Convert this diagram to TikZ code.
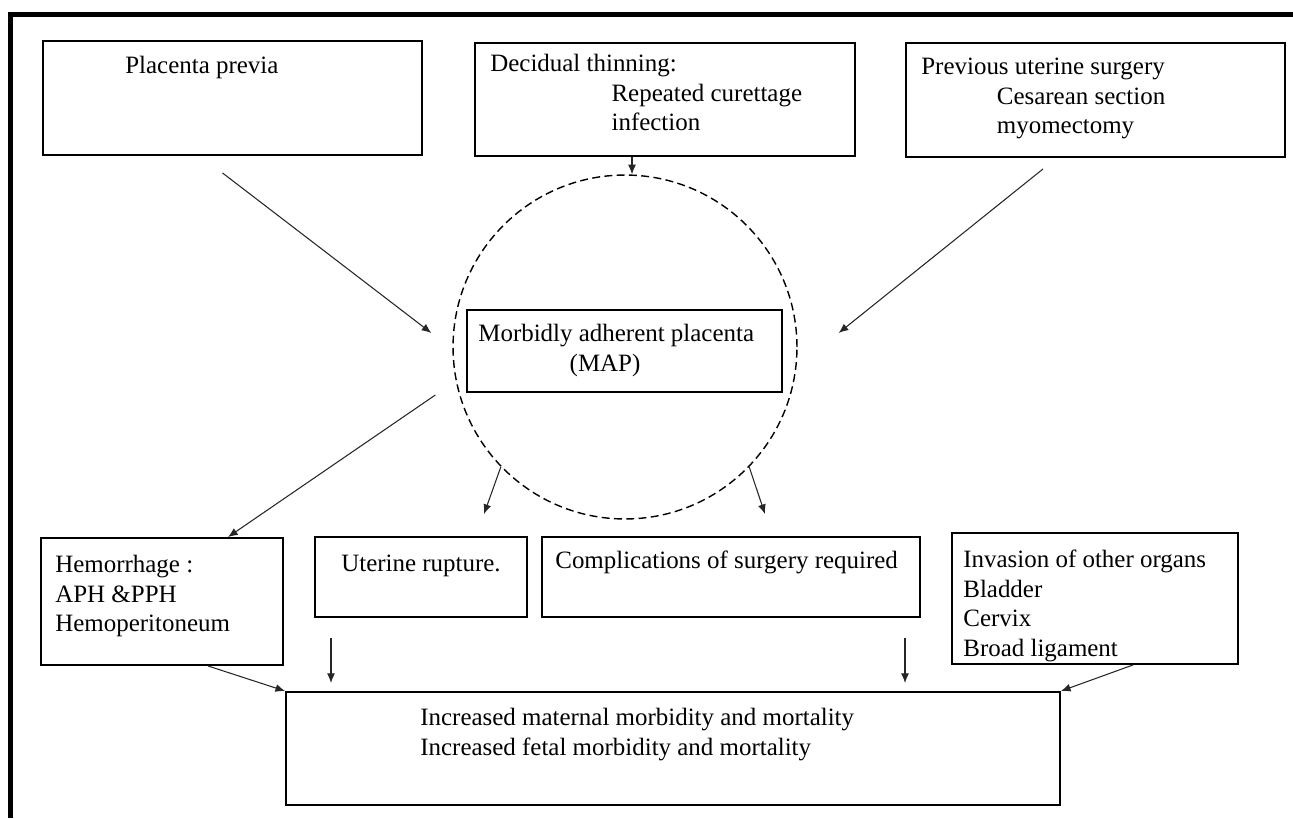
\documentclass[tikz,border=0pt]{standalone}
\usepackage{fontspec}
\setmainfont{Liberation Serif}
\usetikzlibrary{arrows.meta,calc}

\begin{document}
\begin{tikzpicture}[x=0.02cm, y=-0.02cm,
    block/.style={draw, line width=1.1pt, inner sep=0pt},
    ring/.style={draw, circle, line width=0.8pt, dash pattern=on 4.5pt off 2.5pt, inner sep=0pt},
    txt/.style={anchor=north west, inner sep=0pt, align=left, font=\fontsize{14.2}{16.8}\selectfont},
    arrow/.style={-{Latex[length=5.5pt,width=4.5pt]}, line width=0.6pt, black!85}
  ]

  \fill[white] (0,0) rectangle (1293,818);
  \useasboundingbox (0,0) rectangle (1293,818);
  \draw[line width=2.9pt] (10.5,818) -- (10.5,14.5) -- (1293,14.5);

  % causes
  \node[block, minimum width=7.58cm, minimum height=2.28cm] (previa) at (232.5,98) {};
  \node[block, minimum width=7.6cm, minimum height=2.26cm] (decidual) at (665,99.5) {};
  \node[block, minimum width=7.58cm, minimum height=2.28cm] (surgery) at (1095.5,100) {};

  \node[txt] (previatxt) at (125,56) {Placenta previa};
  \node[txt] (decidualtxt) at (490,54) {Decidual thinning:\\
    \hspace*{69pt}Repeated curettage\\
    \hspace*{69pt}infection};
  \node[txt] (surgerytxt) at (921,58) {Previous uterine surgery\\
    \hspace*{43pt}Cesarean section\\
    \hspace*{43pt}myomectomy};

  % MAP
  \node[ring, minimum size=6.88cm] (mapc) at (625,347) {};
  \node[block, minimum width=6.3cm, minimum height=1.64cm] (map) at (624.5,351) {};
  \node[txt] (maptxt) at (478,324) {Morbidly adherent placenta\\
    \hspace*{52pt}(MAP)};

  % consequences
  \node[block, minimum width=4.84cm, minimum height=2.54cm] (hem) at (162,601.5) {};
  \node[block, minimum width=4.24cm, minimum height=1.6cm] (rupture) at (421,577) {};
  \node[block, minimum width=7.56cm, minimum height=1.6cm] (compl) at (731,577) {};
  \node[block, minimum width=5.72cm, minimum height=2.62cm] (invasion) at (1095,598.5) {};

  \node[txt] (hemtxt) at (55,555) {Hemorrhage :\\APH \&PPH\\Hemoperitoneum};
  \node[txt] (rupturetxt) at (341,555) {Uterine rupture.};
  \node[txt] (compltxt) at (555,551) {Complications of surgery required};
  \node[txt] (invasiontxt) at (963,550) {Invasion of other organs\\Bladder\\Cervix\\Broad ligament};

  % outcome
  \node[block, minimum width=15.48cm, minimum height=2.26cm] (outcome) at (673,748.5) {};
  \node[txt] (outcometxt) at (420,708) {Increased maternal morbidity and mortality\\
    Increased fetal morbidity and mortality};

  % arrows
  \draw[arrow] ([shift={(-10,17)}]previa.south) -- ([shift={(-21,-14)}]mapc.west);
  \draw[arrow] ([xshift=-33*0.02cm]decidual.south) -- ([xshift=7*0.02cm]mapc.north);
  \draw[arrow] ([shift={(-52.5,11)}]surgery.south) -- ([shift={(41,-14)}]mapc.east);

  \draw[arrow] ([shift={(-17,48)}]mapc.west) -- ([xshift=66*0.02cm]hem.north);
  \draw[arrow] (mapc.224) -- ([shift={(63,-22)}]rupture.north);
  \draw[arrow] (mapc.316) -- ([shift={(34,-22)}]compl.north);

  \draw[arrow] ([xshift=46*0.02cm]hem.south) -- (outcome.north west);
  \draw[arrow] ($(rupture.south)+(-90,20)$) -- ($(rupture.south |- outcome.north)+(-90,-8)$);
  \draw[arrow] ($(compl.south)+(174,20)$) -- ($(compl.south |- outcome.north)+(174,-8)$);
  \draw[arrow] ([xshift=38*0.02cm]invasion.south) -- (outcome.north east);

\end{tikzpicture}
\end{document}
